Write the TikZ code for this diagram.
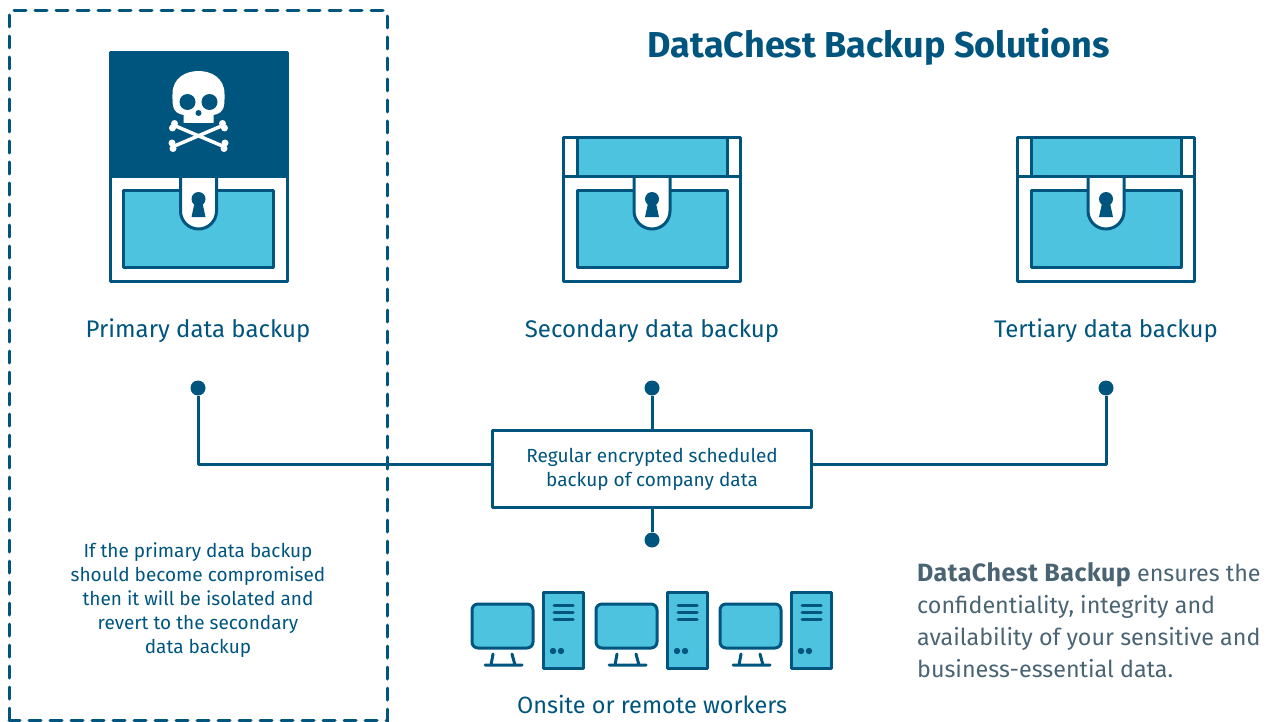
\documentclass[tikz,border=0pt]{standalone}
\usepackage{fontspec}
\setmainfont{Fira Sans}
\definecolor{chestnavy}{HTML}{00557F}
\definecolor{chestblue}{HTML}{4EC3E0}
\definecolor{notegrey}{HTML}{4A6473}

\tikzset{
    navyline/.style={draw=chestnavy, line width=3pt, line join=round},
    bluefill/.style={navyline, fill=chestblue},
    junction/.style={circle, fill=chestnavy, inner sep=0pt, minimum size=15pt},
    caption/.style={text=chestnavy, font=\fontsize{24}{30}\selectfont, inner sep=0pt},
    smalltext/.style={text=chestnavy, align=center, font=\fontsize{19}{24}\selectfont, inner sep=0pt},
    hubbox/.style={navyline, fill=white, minimum width=319pt, minimum height=77pt, inner sep=0pt},
    % body, hasp and keyhole, origin at the middle of the lid line
    chestbody/.pic={
        \draw[navyline, fill=white] (-88.5,0) rectangle (88.5,104.5);
        \draw[bluefill] (-75,13) rectangle (75,90.5);
        \draw[navyline, fill=white] (-18,0) -- (-18,34) arc[start angle=180, end angle=0, radius=18] -- (18,0);
        \fill[chestnavy] (0,22) circle[radius=7];
        \fill[chestnavy] (-3.5,24) -- (3.5,24) -- (7,40) -- (-7,40) -- cycle;
    },
    chestlid/.pic={
        \draw[navyline, fill=white] (-88.5,-39.5) rectangle (88.5,0);
        \draw[bluefill] (-75,-39.5) rectangle (75,0);
    },
    workstation/.pic={
        \draw[bluefill, rounded corners=6pt] (0,12) rectangle (61,56);
        \draw[navyline, line cap=round] (21,62) -- (19,73) (40,62) -- (43,73) (13,73) -- (50,73);
        \draw[bluefill] (71,0) rectangle (111.5,76);
        \draw[navyline, line cap=round] (82,13) -- (101,13) (82,20) -- (101,20) (82,27) -- (101,27);
        \fill[chestnavy] (81,59) circle[radius=3.2] (89,59) circle[radius=3.2];
    }
}

\begin{document}
\begin{tikzpicture}[x=1pt, y=-1pt]
    \useasboundingbox (0,0) rectangle (1273,722);

    \node[text=chestnavy, font=\fontsize{36}{40}\selectfont\bfseries, inner sep=0pt] (title) at (879,47) {DataChest Backup Solutions};

    % the three chests
    \foreach \cx in {198.5,652,1106} {
        \pic at (\cx,177) {chestbody};
    }
    \pic at (652,177) {chestlid};
    \pic at (1106,177) {chestlid};

    % compromised lid
    \begin{scope}[shift={(198.5,0)}]
        \draw[navyline, fill=chestnavy] (-88.5,52.5) rectangle (88.5,177);
        \fill[white] (-15,123) -- (-15,115) .. controls (-27,113) and (-26,104) .. (-26,94)
            .. controls (-26,78) and (-13,71) .. (0,71) .. controls (13,71) and (26,78) .. (26,94)
            .. controls (26,104) and (27,113) .. (15,115) -- (15,123) -- cycle;
        \fill[chestnavy] (-11,102) circle[radius=8] (11,102) circle[radius=8] (0,113) circle[radius=3];
        \foreach \sx in {-1,1} {
            \draw[white, line width=3.5pt, xscale=\sx] (-23,126) -- (24,146);
            \fill[white, xscale=\sx] (-24,123.5) circle[radius=3.5] (-26,128) circle[radius=3.5]
                (26.5,143) circle[radius=3.5] (25.5,148.5) circle[radius=3.5];
        }
    \end{scope}

    \node[caption] (primary) at (198,331) {Primary data backup};
    \node[caption] (secondary) at (652,331) {Secondary data backup};
    \node[caption] (tertiary) at (1106,331) {Tertiary data backup};

    \node[junction] (dotprimary) at (198,388) {};
    \node[junction] (dotsecondary) at (652,388) {};
    \node[junction] (dottertiary) at (1106,388) {};
    \node[junction] (dotworkers) at (652,540) {};

    \node[hubbox] (hub) at (652,469) {};
    \node[smalltext] (hubtext) at (652,469) {Regular encrypted scheduled\\backup of company data};

    \draw[navyline] (dotprimary) |- (hub.west |- 0,464);
    \draw[navyline] (dottertiary) |- (hub.east |- 0,464);
    \draw[navyline] (dotsecondary) -- (hub);
    \draw[navyline] (hub) -- (dotworkers);

    % isolated part
    \draw[chestnavy, line width=3pt, dash pattern=on 12pt off 9pt, line cap=round] (9,720) -- (9,11) -- (387,11) -- (387,720) -- cycle;

    \node[smalltext] (isolated) at (198,600) {If the primary data backup\\should become compromised\\then it will be isolated and\\revert to the secondary\\data backup};

    \foreach \wx in {472,596,720} {
        \pic at (\wx,592) {workstation};
    }
    \node[caption, font=\fontsize{23.5}{30}\selectfont] (workers) at (652,704) {Onsite or remote workers};

    \node[text=notegrey, align=left, anchor=west, inner sep=0pt, font=\fontsize{23.3}{32}\selectfont] (summary) at (917,620) {{\fontsize{25}{32}\selectfont\addfontfeature{LetterSpace=2}\bfseries DataChest Backup} ensures the\\confidentiality, integrity and\\availability of your sensitive and\\business-essential data.};
\end{tikzpicture}
\end{document}
